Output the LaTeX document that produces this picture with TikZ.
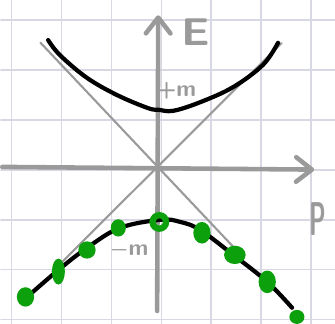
\documentclass[tikz,border=0pt]{standalone}
\usepackage{amsmath,amssymb}
\usepackage{tikz}
\usetikzlibrary{calc,arrows.meta}
\usepackage{xcolor}
\definecolor{rejilla}{RGB}{216,216,228}
\definecolor{ejes}{RGB}{154,154,154}
\definecolor{verde}{RGB}{12,160,12}

\begin{document}
\begin{tikzpicture}[x=1.08cm,y=1.08cm,
  eje/.style={ejes,line width=2.6pt,line cap=round,-{Straight Barb[length=9pt,width=14pt,round]}},
  asintota/.style={ejes,line width=1.2pt},
  rama/.style={black,line width=2.4pt,line cap=round,line join=round},
  etiqueta/.style={ejes,inner sep=0pt}]
  \begin{scope}
    \clip (-2.907,-2.907) rectangle (3.296,3.093);
    \path[use as bounding box] (-2.907,-2.907) rectangle (3.296,3.093);
    % cuadricula de fondo
    \draw[rejilla,line width=0.7pt,shift={(0.074,-0.056)}] (-4,-4) grid (4,4);
  \end{scope}
  % asintotas E = |p|
  \draw[asintota] (-2.17,2.31) -- (1.41,-1.48);
  \draw[asintota] (2.31,2.30) -- (-1.95,-1.95);
  % ejes
  \draw[eje] (-2.87,0) -- (2.91,-0.05);
  \draw[eje] (0,-2.67) -- (0.02,2.81);
  % ramas de energia positiva y negativa
  \draw[rama] plot[smooth,tension=0.6] coordinates {(-2.02,2.35) (-1.80,2.07) (-1.30,1.65) (-0.74,1.33) (-0.17,1.09) (0.02,1.06) (0.30,1.04) (0.80,1.20) (1.41,1.48) (1.96,1.89) (2.24,2.30)};
  \draw[rama] plot[smooth,tension=0.6] coordinates {(-2.41,-2.41) (-1.83,-1.91) (-1.30,-1.50) (-0.69,-1.13) (0.06,-0.98) (0.43,-1.02) (0.80,-1.17) (1.41,-1.63) (2.04,-2.13) (2.50,-2.61)};
  % estados ocupados
  \foreach \x/\y/\rx/\ry in {-2.44/-2.41/0.16/0.18, -1.83/-1.94/0.12/0.24, -1.30/-1.54/0.16/0.16, -0.72/-1.13/0.14/0.16, 0.83/-1.22/0.16/0.20, 1.44/-1.63/0.20/0.17, 2.04/-2.13/0.16/0.21, 2.59/-2.78/0.14/0.13}{
    \fill[verde] (\x,\y) ellipse[x radius=\rx, y radius=\ry];
  }
  \draw[verde,line width=3.6pt] (0.04,-1.02) circle[radius=0.125];
  % etiquetas
  \node[etiqueta,font=\sffamily\bfseries\fontsize{22}{22}\selectfont] (E) at (0.71,2.49) {\scalebox{1.15}[1]{E}};
  \node[etiqueta,font=\sffamily\bfseries\fontsize{18}{18}\selectfont] (P) at (2.98,-0.96) {\scalebox{0.75}[1.5]{P}};
  \node[etiqueta,font=\sffamily\bfseries\fontsize{13}{13}\selectfont] (masm) at (0.36,1.41) {+m};
  \node[etiqueta,font=\sffamily\bfseries\fontsize{13}{13}\selectfont] (menosm) at (-0.52,-1.54) {$\boldsymbol{-}$m};
\end{tikzpicture}
\end{document}
